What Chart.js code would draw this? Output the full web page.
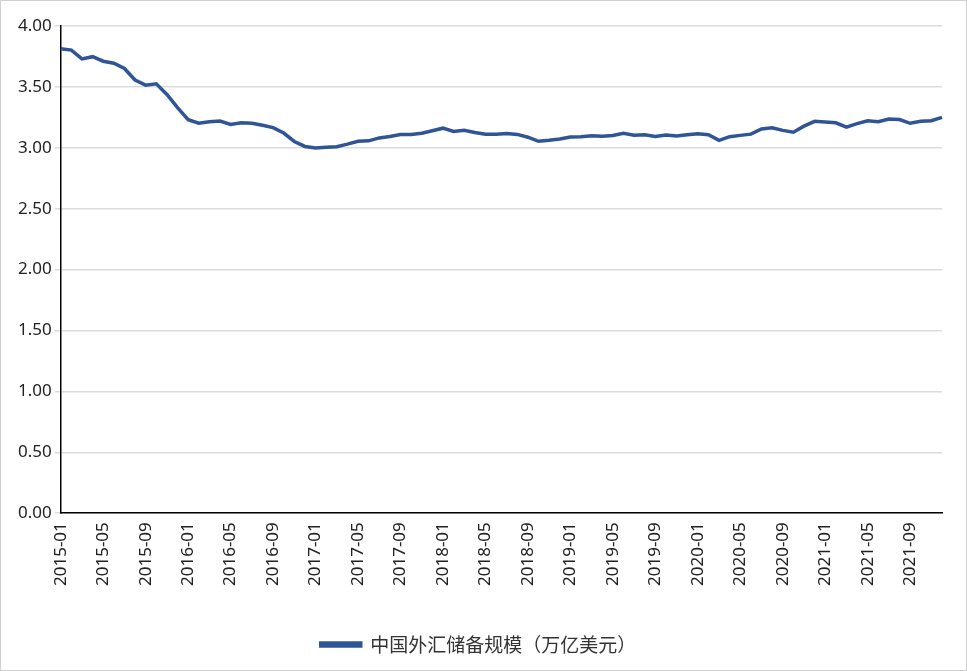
<!DOCTYPE html>
<html>
<head>
<meta charset="utf-8">
<script src="https://cdn.jsdelivr.net/npm/chart.js@4/dist/chart.umd.min.js"></script>
<style>
  body { margin: 0; background: #fff; }
  #wrap { width: 965px; height: 669px; border: 1px solid #d0d0d0; position: relative; }
</style>
</head>
<body>
<div id="wrap"><canvas id="c"></canvas></div>
<script>
const seriesName = '中国外汇储备规模（万亿美元）';
const reserves = [
  3.813, 3.802, 3.730, 3.748, 3.711, 3.694, 3.651, 3.557, 3.514, 3.525, 3.438, 3.330,
  3.231, 3.202, 3.213, 3.220, 3.192, 3.205, 3.201, 3.185, 3.166, 3.121, 3.052, 3.011,
  2.998, 3.005, 3.009, 3.030, 3.054, 3.057, 3.081, 3.092, 3.109, 3.109, 3.119, 3.140,
  3.161, 3.134, 3.143, 3.125, 3.111, 3.112, 3.118, 3.110, 3.087, 3.053, 3.062, 3.073,
  3.088, 3.090, 3.099, 3.095, 3.101, 3.119, 3.104, 3.107, 3.092, 3.105, 3.096, 3.108,
  3.116, 3.107, 3.061, 3.091, 3.102, 3.112, 3.154, 3.165, 3.143, 3.128, 3.178, 3.217,
  3.211, 3.205, 3.170, 3.198, 3.222, 3.214, 3.236, 3.232, 3.201, 3.218, 3.222, 3.250
];
let months = [];
for (let y = 2015; y <= 2021; y++) {
  for (let m = 1; m <= 12; m++) {
    months.push(y + '-' + (m < 10 ? '0' + m : m));
  }
}

new Chart(document.getElementById('c'), {
  type: 'line',
  data: {
    labels: months,
    datasets: [{
      label: seriesName,
      data: reserves,
      borderColor: '#2f5597',
      backgroundColor: '#2f5597',
      borderWidth: 3.5,
      pointRadius: 0,
      tension: 0
    }]
  },
  options: {
    responsive: true,
    maintainAspectRatio: false,
    animation: false,
    layout: { padding: { left: 14, right: 24, top: 25, bottom: 6 } },
    plugins: {
      legend: {
        position: 'bottom',
        labels: {
          font: { family: 'Noto Sans CJK SC', size: 19 },
          color: '#333',
          boxWidth: 40, boxHeight: 3,
          padding: 46
        }
      },
      tooltip: { enabled: false }
    },
    scales: {
      x: {
        offset: false,
        grid: { display: false, drawTicks: true, tickLength: 6, color: '#000' },
        border: { color: '#000', width: 1.5 },
        ticks: {
          autoSkip: false,
          maxRotation: 90, minRotation: 90,
          color: '#222',
          font: { family: 'Noto Sans', size: 17 },
          callback: function (v, i) { return i % 4 === 0 ? months[i] : ''; }
        }
      },
      y: {
        min: 0, max: 4,
        grid: { color: '#dcdcdc', lineWidth: 1.5, drawTicks: true, tickLength: 6 },
        border: { color: '#000', width: 1.5 },
        ticks: {
          stepSize: 0.5,
          color: '#222',
          font: { family: 'Noto Sans', size: 17 },
          callback: (v) => v.toFixed(2)
        }
      }
    }
  }
});
</script>
</body>
</html>
